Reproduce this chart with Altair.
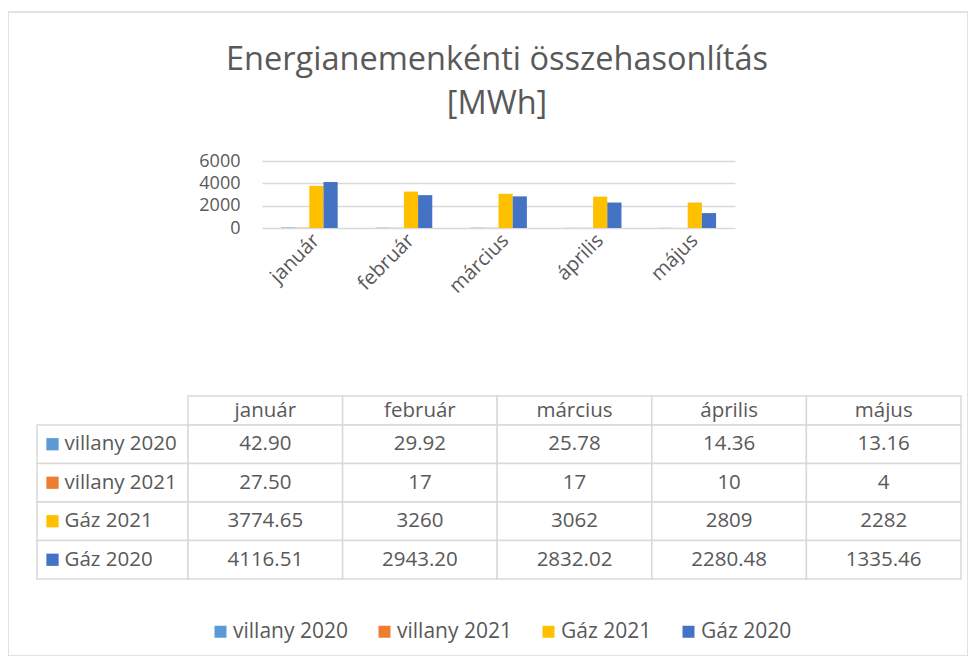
import altair as alt
import pandas as pd

# ---- data ----
months = ["január", "február", "március", "április", "május"]
series = ["villany 2020", "villany 2021", "Gáz 2021", "Gáz 2020"]
villany_2020 = [42.90, 29.92, 25.78, 14.36, 13.16]
villany_2021 = [27.50, 17, 17, 10, 4]
gaz_2021 = [3774.65, 3260, 3062, 2809, 2282]
gaz_2020 = [4116.51, 2943.20, 2832.02, 2280.48, 1335.46]
colors = ["#5B9BD5", "#ED7D31", "#FFC000", "#4472C4"]
y_ticks = [0, 2000, 4000, 6000]
title_lines = ["Energianemenkénti összehasonlítás", "[MWh]"]

series_values = [villany_2020, villany_2021, gaz_2021, gaz_2020]


def fmt(v):
    return str(int(v)) if float(v).is_integer() else f"{v:.2f}"


long_rows = []
for s, vals in zip(series, series_values):
    for m, v in zip(months, vals):
        long_rows.append({"series": s, "month": m, "value": v, "label": fmt(v)})
data = pd.DataFrame(long_rows)
names_df = pd.DataFrame({"series": series, "col": ["name"] * len(series)})
header_df = pd.DataFrame({"month": months, "row": ["hdr"] * len(months)})
title_df = pd.DataFrame({"text": ["\n".join(title_lines)]})

GRAY = "#595959"
LINE = "#d9d9d9"
FONT = "Open Sans"

color_scale = alt.Scale(domain=series, range=colors)

# ---- bar chart ----
x_bar = alt.Scale(domain=months, range=[254, 727], paddingInner=0.4, paddingOuter=0.2)
y_bar = alt.Scale(domain=[0, 6000], range=[216, 149], nice=False)

bars = alt.Chart(data).mark_bar().encode(
    x=alt.X("month:N", sort=months, scale=x_bar, title=None,
            axis=alt.Axis(labelAngle=-45, offset=-436, domain=False, ticks=False,
                          labelFontSize=20, labelColor=GRAY, labelFont=FONT,
                          labelPadding=10)),
    xOffset=alt.XOffset("series:N", sort=series, scale=alt.Scale(domain=series)),
    y=alt.Y("value:Q", scale=y_bar, title=None,
            axis=alt.Axis(values=y_ticks, format="d", offset=-236, domain=False,
                          ticks=False, grid=True, gridColor=LINE, gridWidth=1.5,
                          labelFontSize=18, labelColor=GRAY, labelFont=FONT,
                          labelPadding=4)),
    color=alt.Color("series:N", sort=series, scale=color_scale,
                    legend=alt.Legend(orient="none", legendX=202, legendY=609,
                                      direction="horizontal", title=None,
                                      symbolType="square", symbolSize=144,
                                      symbolStrokeWidth=0,
                                      labelFontSize=21, labelColor=GRAY,
                                      labelFont=FONT, labelOffset=2,
                                      columnPadding=26)),
)

# ---- data table ----
name_x = alt.Scale(domain=["name"], range=[29, 180], paddingInner=0, paddingOuter=0)
month_x = alt.Scale(domain=months, range=[180, 953], paddingInner=0, paddingOuter=0)
hdr_y = alt.Scale(domain=["hdr"], range=[384, 413], paddingInner=0, paddingOuter=0)
row_y = alt.Scale(domain=series, range=[413, 567], paddingInner=0, paddingOuter=0)

cell_style = dict(fill="white", stroke=LINE, strokeWidth=1.5)
text_style = dict(fontSize=20.5, color=GRAY, font=FONT)

hx = alt.X("month:N", sort=months, scale=month_x, axis=None)
hy = alt.Y("row:N", scale=hdr_y, axis=None)
header_cells = alt.Chart(header_df).mark_rect(**cell_style).encode(x=hx, y=hy)
header_text = alt.Chart(header_df).mark_text(**text_style).encode(x=hx, y=hy, text="month:N")

nx = alt.X("col:N", scale=name_x, axis=None)
ny = alt.Y("series:N", sort=series, scale=row_y, axis=None)
name_cells = alt.Chart(names_df).mark_rect(**cell_style).encode(x=nx, y=ny)
name_squares = alt.Chart(names_df).mark_square(size=150, xOffset=-60, opacity=1).encode(
    x=nx, y=ny,
    color=alt.Color("series:N", sort=series, scale=color_scale, legend=None))
name_text = alt.Chart(names_df).mark_text(align="left", dx=-48, **text_style).encode(
    x=nx, y=ny, text="series:N")

vx = alt.X("month:N", sort=months, scale=month_x, axis=None)
vy = alt.Y("series:N", sort=series, scale=row_y, axis=None)
value_cells = alt.Chart(data).mark_rect(**cell_style).encode(x=vx, y=vy)
value_text = alt.Chart(data).mark_text(**text_style).encode(x=vx, y=vy, text="label:N")

# ---- title ----
title = alt.Chart(title_df).mark_text(
    fontSize=32.5, color=GRAY, font=FONT, lineBreak="\n", lineHeight=44,
    baseline="middle", align="center").encode(
    x=alt.value(489), y=alt.value(48), text="text:N")

chart = alt.layer(
    bars, header_cells, header_text, name_cells, name_squares, name_text,
    value_cells, value_text, title
).resolve_scale(x="independent", y="independent").properties(
    width=960, height=644,
    autosize=alt.AutoSizeParams(type="none"),
    padding={"left": 0, "top": 4, "right": 0, "bottom": 0},
    background="white",
).configure_view(stroke=LINE, strokeWidth=1.5)

chart.save("out.html", embed_options={"renderer": "svg", "actions": False})
